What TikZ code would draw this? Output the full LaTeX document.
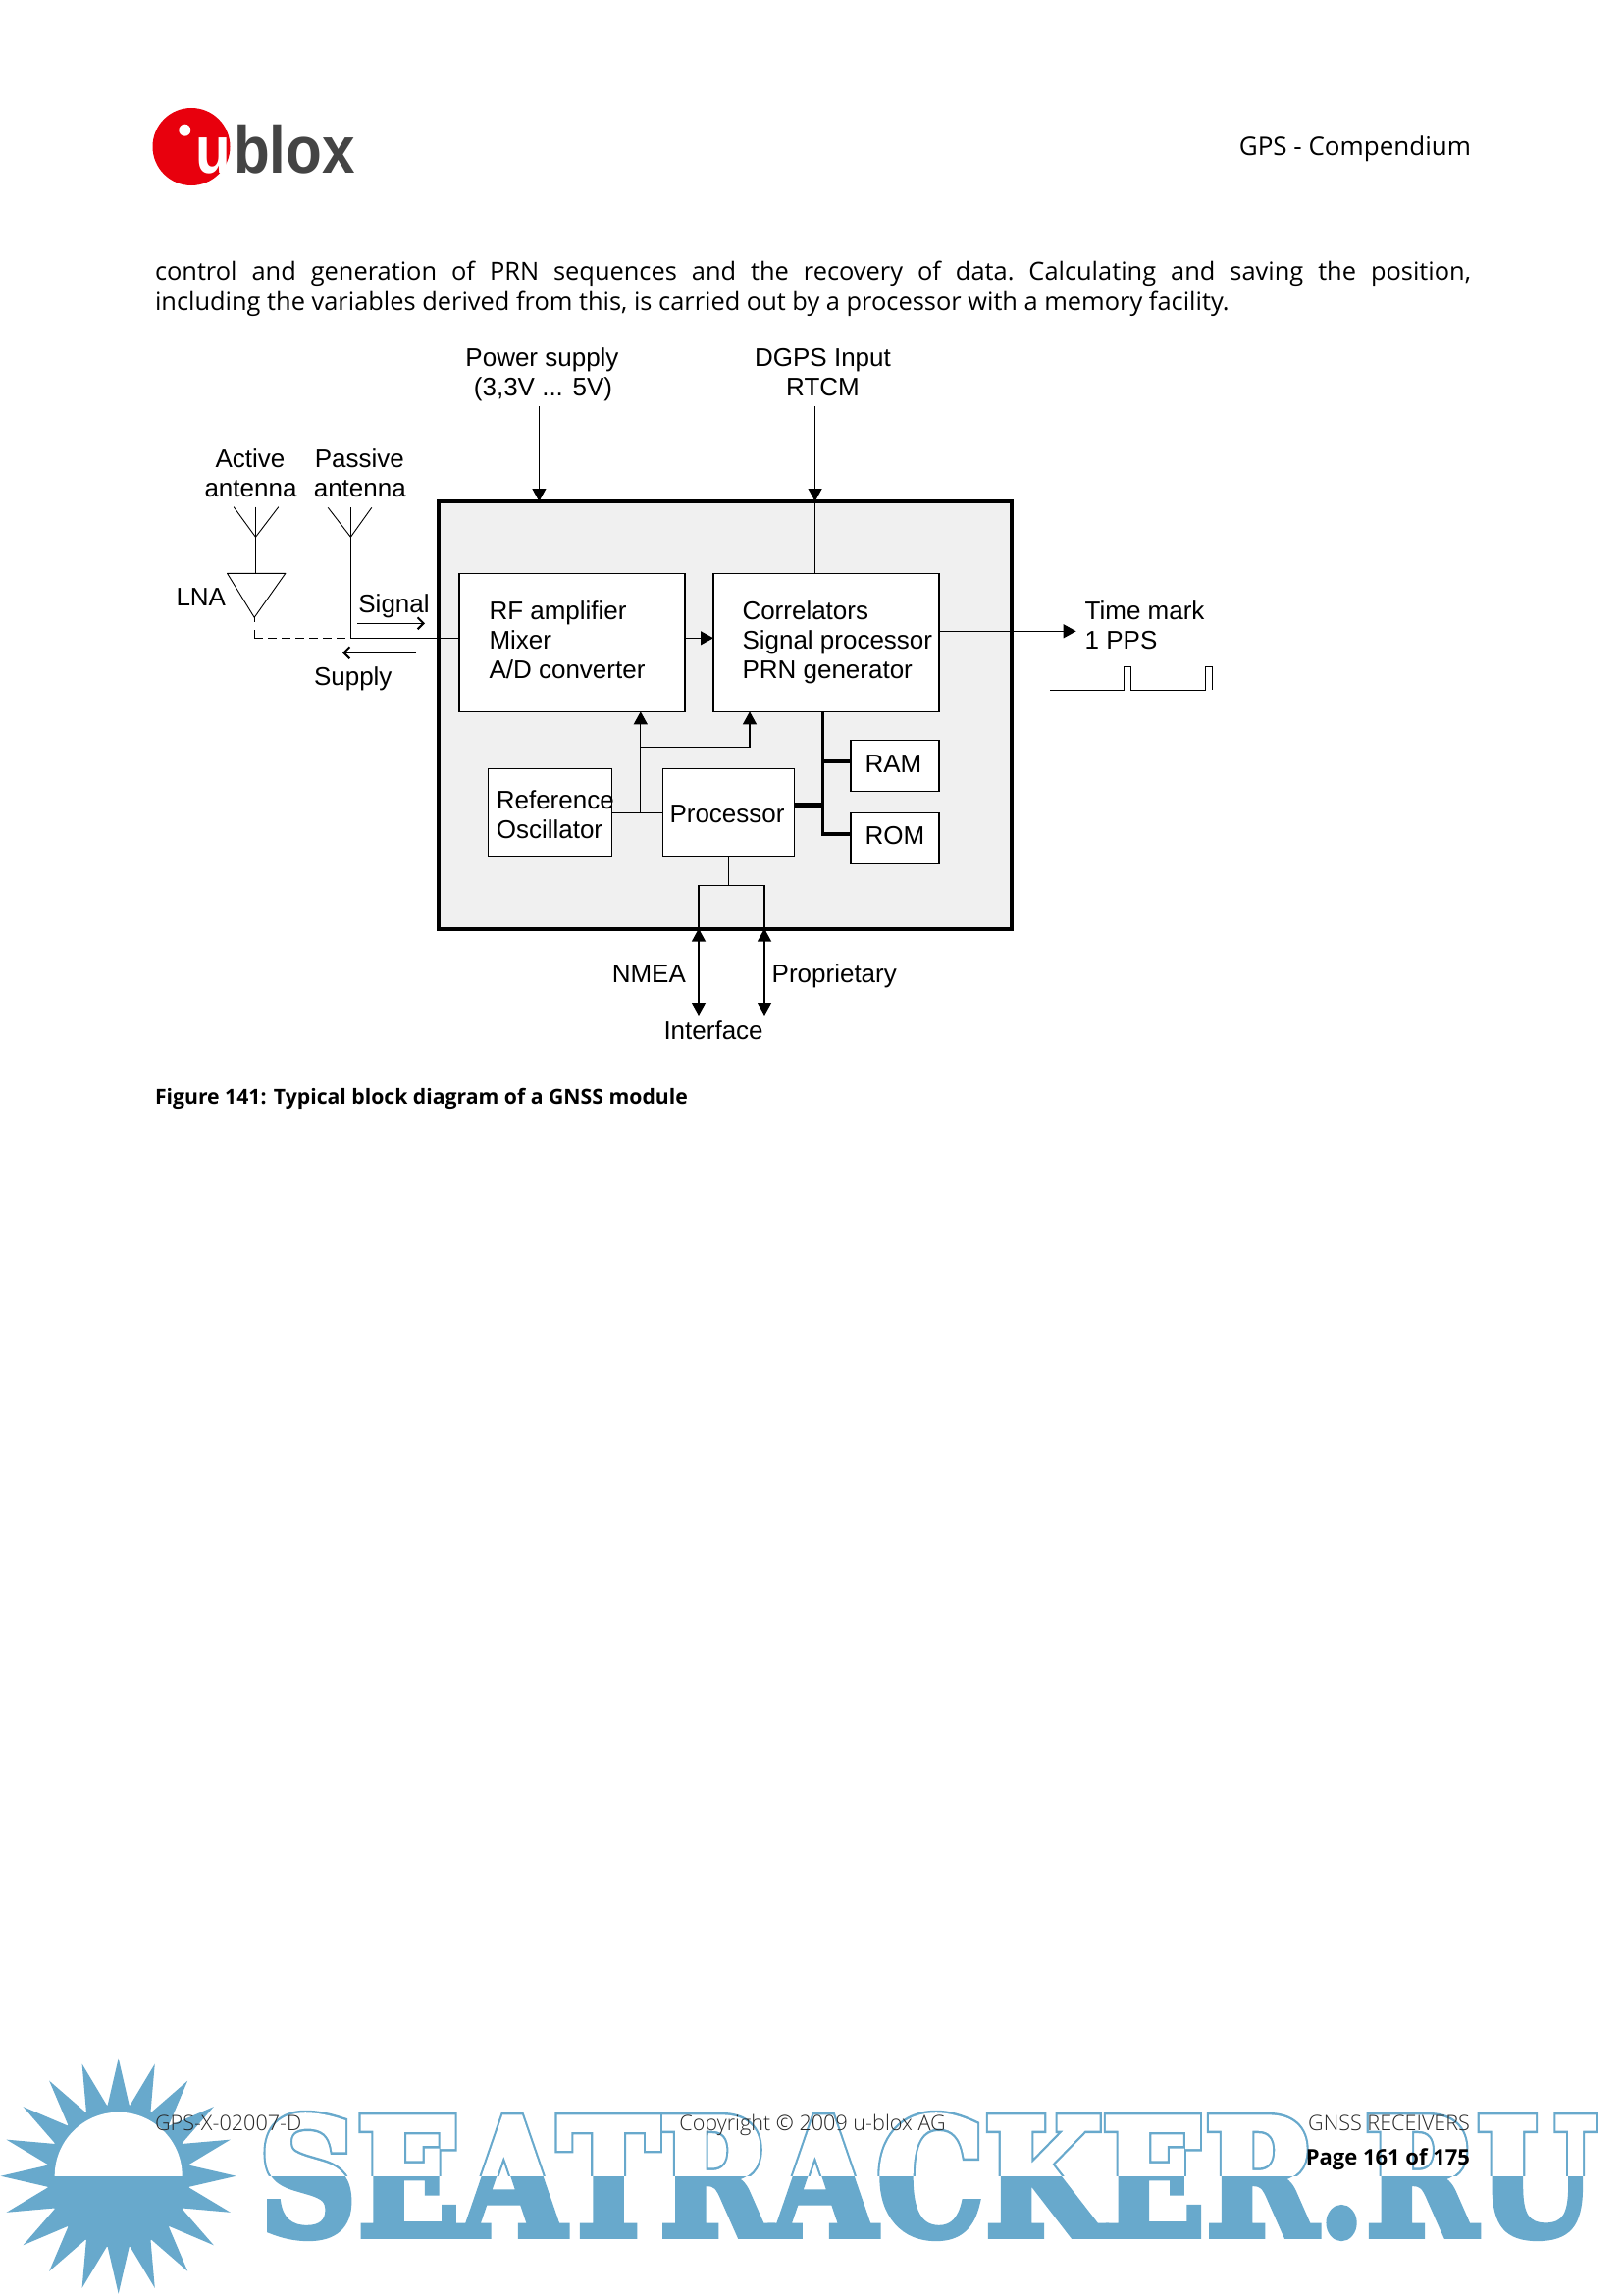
\documentclass[tikz,border=0pt]{standalone}
\usepackage{fontspec}
\usepackage{graphicx}
\usetikzlibrary{arrows.meta}
\newfontfamily\arial{Liberation Sans}
\newfontfamily\bodyf{Open Sans}
\newfontfamily\lightf[UprightFont=* Light]{Open Sans}
\newfontfamily\logof[UprightFont=* Bold]{Liberation Sans}
\newfontfamily\wmf[UprightFont=* Bold,FakeBold=4]{DejaVu Serif}
\newfontfamily\wmo[UprightFont=* Bold,FakeBold=7]{DejaVu Serif}
\definecolor{wm}{HTML}{68A9CC}
\definecolor{panel}{HTML}{F0F0F0}
\definecolor{logored}{HTML}{E8000D}
\definecolor{logogray}{HTML}{444444}
\tikzset{
  thinl/.style={draw=black,line width=1.1pt},
  busl/.style={draw=black,line width=3pt},
  boxn/.style={draw=black,fill=white,line width=1.2pt,inner sep=0pt,outer sep=0pt,anchor=north west},
  lab/.style={inner sep=0pt,outer sep=0pt,anchor=base west,font=\arial\fontsize{26}{30}\selectfont},
  labc/.style={lab,anchor=base},
  body/.style={inner sep=0pt,outer sep=0pt,anchor=base west,font=\bodyf\fontsize{25.4}{30}\selectfont},
  foot/.style={inner sep=0pt,outer sep=0pt,anchor=base west,text=black!85,font=\lightf\fontsize{21.6}{26}\selectfont},
  fill tip/.style={-{Triangle[length=13pt,width=14pt]}},
  both tip/.style={{Triangle[length=13pt,width=14pt]}-{Triangle[length=13pt,width=14pt]}},
  barb tip/.style={-{Straight Barb[length=6pt,width=12pt,line width=2pt]}}
}
\begin{document}
\begin{tikzpicture}[x=1pt,y=-1pt]
\useasboundingbox (0,0) rectangle (1654,2339);
\fill[white] (0,0) rectangle (1654,2339);

% --- watermark: sun
\coordinate (sun) at (120.7,2217.7);
\fill[wm] (sun) circle (73);
\foreach \a in {0,18,...,342}{
  \fill[wm] ([shift={(sun)}]\a-9:72) -- ([shift={(sun)}]\a:120) -- ([shift={(sun)}]\a+9:72) -- cycle;
}
\begin{scope}
  \clip (0,2000) rectangle (1654,2217.7);
  \fill[white] (sun) circle (65);
\end{scope}
% --- watermark: word
\begin{scope}
  \clip (0,2217.7) rectangle (1654,2339);
  \node[inner sep=0pt,anchor=base west,text=wm] (wmlow) at (264,2278.5) {\wmf\fontsize{180}{180}\selectfont\resizebox{1362pt}{122pt}{SEATRACKER.RU}};
\end{scope}
\begin{scope}
  \clip (0,2100) rectangle (1654,2217.7);
  \node[inner sep=0pt,anchor=base west,text=wm] (wmhigh) at (264,2278.5) {\wmo\fontsize{180}{180}\selectfont\resizebox{1362pt}{122pt}{SEATRACKER.RU}};
  \node[inner sep=0pt,anchor=base west,text=white] (wmhole) at (264,2278.5) {\wmf\fontsize{180}{180}\selectfont\resizebox{1362pt}{122pt}{SEATRACKER.RU}};
\end{scope}

% --- logo
\fill[logored] (195,149.5) circle (39.5);
\fill[white] (188.3,132.7) circle (6);
\node[inner sep=0pt,anchor=base west,text=white,font=\logof\fontsize{68}{68}\selectfont] (logou) at (199,176) {\scalebox{.86}[1]{u}};
\node[inner sep=0pt,anchor=base west,text=logogray,font=\logof\fontsize{68}{68}\selectfont] (logob) at (238,176) {\scalebox{.885}[1]{blox}};

% --- page text
\node[body,anchor=base east,font=\bodyf\fontsize{26}{30}\selectfont] (hdr) at (1499,158) {GPS - Compendium};
\node[body] (l1) at (158,285) {\frenchspacing\makebox[1341pt][s]{control and generation of PRN sequences and the recovery of data. Calculating and saving the position,}};
\node[body] (l2) at (158,316.7) {including the variables derived from this, is carried out by a processor with a memory facility.};
\node[body,font=\bodyf\bfseries\fontsize{21.2}{26}\selectfont] (cap) at (158,1125) {Figure 141: Typical block diagram of a GNSS module};

% --- main panel
\node[draw=black,fill=panel,line width=4pt,inner sep=0pt,outer sep=0pt,anchor=north west,minimum width=584pt,minimum height=435.5pt] (main) at (447,511) {};
\node[boxn,minimum width=230pt,minimum height=141pt] (rf) at (468,584.3) {};
\node[boxn,minimum width=230pt,minimum height=141pt] (corr) at (727,584.3) {};
\node[boxn,minimum width=125.6pt,minimum height=89pt] (osc) at (497.6,783.3) {};
\node[boxn,minimum width=133.8pt,minimum height=89pt] (proc) at (675.5,783.3) {};
\node[boxn,minimum width=89.9pt,minimum height=52.4pt] (ram) at (867,754.3) {};
\node[boxn,minimum width=89.9pt,minimum height=52pt] (rom) at (867,828.3) {};

% --- free ends
\coordinate (pwr) at (549.4,414);
\coordinate (dgps) at (830.6,414);
\coordinate (mk) at (1096.7,643.3);
\coordinate (busx) at (838,0);
\coordinate (oscx) at (652.8,0);
\coordinate (corx) at (764,0);
\coordinate (nmeax) at (712,0);
\coordinate (propx) at (779,0);
\coordinate (ifc) at (0,1035);
\coordinate (sig) at (0,650.3);
\coordinate (clk) at (0,828.3);
\coordinate (branch) at (0,761.3);
\coordinate (tee) at (0,902.3);
\coordinate (ramy) at (0,776);
\coordinate (romy) at (0,850);
\coordinate (procy) at (0,820.7);

% --- connectors
\draw[thinl,fill tip] (pwr) -- (pwr |- main.north);
\draw[thinl,fill tip] (dgps) -- (dgps |- main.north);
\draw[thinl] (dgps |- main.north) -- (dgps |- corr.north);
\draw[thinl,fill tip] (rf.east |- sig) -- (corr.west |- sig);
\draw[thinl,fill tip] (corr.east |- mk) -- (mk);
\draw[thinl] (osc.east |- clk) -- (proc.west |- clk);
\draw[thinl,fill tip] (oscx |- clk) -- (oscx |- rf.south);
\draw[thinl,fill tip] (oscx |- branch) -- (corx |- branch) -- (corx |- corr.south);
\draw[busl,line join=miter] (busx |- corr.south) -- (busx |- romy) -- (rom.west |- romy);
\draw[busl,line width=4pt] (busx |- romy) -- (rom.west |- romy);
\draw[busl,line width=4pt] (busx |- ramy) -- (ram.west |- ramy);
\draw[draw=black,line width=4.5pt] (proc.east |- procy) -- (busx |- procy);
\draw[thinl] (proc.south) -- (proc.south |- tee);
\draw[thinl] (nmeax |- tee) -- (propx |- tee);
\draw[thinl] (nmeax |- tee) -- (nmeax |- main.south);
\draw[thinl] (propx |- tee) -- (propx |- main.south);
\draw[thinl,both tip] (nmeax |- main.south) -- (nmeax |- ifc);
\draw[thinl,both tip] (propx |- main.south) -- (propx |- ifc);

% --- antennas
\coordinate (aa) at (260.5,547.3);
\coordinate (pa) at (357.4,547.3);
\draw[thinl,line width=.9pt] (238.2,516.7) -- (aa) -- (283.8,516.7);
\draw[thinl,line width=.9pt] (260.5,516.7) -- (aa);
\draw[thinl,line width=.9pt] (334.2,517.3) -- (pa) -- (378.8,517.3);
\draw[thinl,line width=.9pt] (357.4,517.3) -- (pa);
\coordinate (lnatip) at (259.2,629.3);
\coordinate (lnal) at (231.5,584.3);
\coordinate (lnar) at (290.9,584.3);
\draw[thinl,line width=.9pt,line join=round] (lnal) -- (lnar) -- (lnatip) -- cycle;
\draw[thinl] (aa) -- (aa |- lnal);
\draw[thinl] (pa) -- (pa |- sig);
\draw[thinl] (pa |- sig) -- (rf.west |- sig);
\draw[thinl,dash pattern=on 5pt off 8pt on 9pt off 5pt on 9pt off 5pt] (lnatip) -- (lnatip |- sig);
\draw[thinl,dash pattern=on 9pt off 5pt] (lnatip |- sig) -- (pa |- sig);
\coordinate (sigs) at (364,635.3);
\coordinate (sige) at (433,635.3);
\coordinate (sups) at (424,665.3);
\coordinate (supe) at (349,665.3);
\draw[thinl,barb tip] (sigs) -- (sige);
\draw[thinl,barb tip] (sups) -- (supe);

% --- pulse train
\coordinate (pstart) at (1070,703.3);
\draw[thinl] (pstart) -- (1145.7,703.3) -- (1145.7,679.3) -- (1152.3,679.3) -- (1152.3,703.3) -- (1228.7,703.3) -- (1228.7,679.3) -- (1235.7,679.3) -- (1235.7,703.3);

% --- labels
\node[labc] (t1) at (552.5,373.3) {Power supply};
\node[labc] (t2) at (553.5,403.3) {(3,3V ... 5V)};
\node[labc] (t3) at (838.5,373.3) {DGPS Input};
\node[labc] (t4) at (838.5,403.3) {RTCM};
\node[labc] (t5) at (255,476.7) {Active};
\node[labc] (t6) at (255.5,506.7) {antenna};
\node[labc] (t7) at (366.3,476.7) {Passive};
\node[labc] (t8) at (366.8,506.7) {antenna};
\node[lab] (t9) at (179.5,617.3) {LNA};
\node[lab] (t10) at (365.4,624) {Signal};
\node[lab] (t11) at (320,698) {Supply};
\node[lab] (t12) at (498.5,631) {RF amplifier};
\node[lab] (t13) at (498.5,661) {Mixer};
\node[lab] (t14) at (498.5,691) {A/D converter};
\node[lab] (t15) at (756.5,631) {Correlators};
\node[lab] (t16) at (756.5,661) {Signal processor};
\node[lab] (t17) at (756.5,691) {PRN generator};
\node[lab] (t18) at (505.8,824) {Reference};
\node[lab] (t19) at (505.8,854) {Oscillator};
\node[lab] (t20) at (682.5,838.3) {Processor};
\node[lab] (t21) at (881.6,787.3) {RAM};
\node[lab] (t22) at (881.6,860.7) {ROM};
\node[lab] (t23) at (623.8,1001.7) {NMEA};
\node[lab] (t24) at (786.7,1001.7) {Proprietary};
\node[lab] (t25) at (676.5,1059.3) {Interface};
\node[lab] (t26) at (1105.7,631.7) {Time mark};
\node[lab] (t27) at (1105.7,661.7) {1 PPS};

% --- footer
\node[foot] (f1) at (158,2171.7) {GPS-X-02007-D};
\node[foot,anchor=base] (f2) at (828,2171.7) {Copyright © 2009 u-blox AG};
\node[foot,anchor=base east] (f3) at (1498,2171.7) {GNSS RECEIVERS};
\node[foot,anchor=base east,text=black,font=\bodyf\bfseries\fontsize{22}{26}\selectfont] (f4) at (1498,2206) {Page 161 of 175};
\end{tikzpicture}
\end{document}
